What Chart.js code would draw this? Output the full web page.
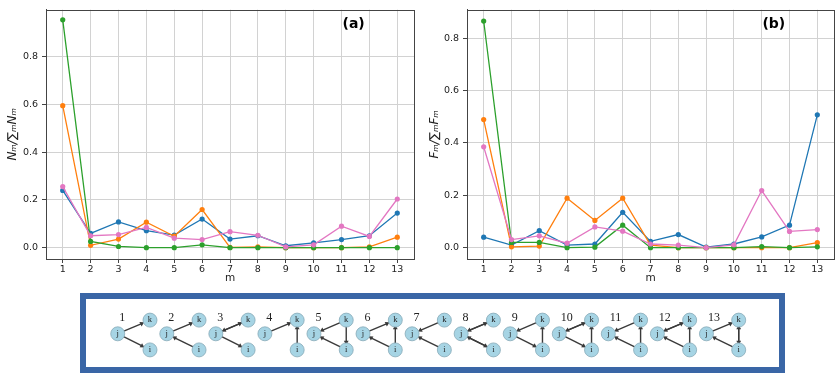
<!DOCTYPE html>
<html>
<head>
<meta charset="utf-8">
<script src="https://cdn.jsdelivr.net/npm/chart.js@4.4.1/dist/chart.umd.min.js"></script>
<style>
html, body { margin: 0; padding: 0; background: #fff; width: 835px; height: 373px; overflow: hidden; }
.box { position: absolute; }
</style>
</head>
<body>
<div class="box" style="left:0;top:0;width:418px;height:290px"><canvas id="chartA"></canvas></div>
<div class="box" style="left:418px;top:0;width:420px;height:290px"><canvas id="chartB"></canvas></div>
<div class="box" style="left:80px;top:293px;width:705px;height:80px"><canvas id="motifs"></canvas></div>
<script>
// motif index m
const motifs = [1, 2, 3, 4, 5, 6, 7, 8, 9, 10, 11, 12, 13];
const yTicksA = [0, 0.2, 0.4, 0.6, 0.8];
const yTicksB = [0, 0.2, 0.4, 0.6, 0.8];

// (a) N_m / sum N_m
const nBlue   = [0.240, 0.060, 0.108, 0.071, 0.053, 0.120, 0.036, 0.050, 0.008, 0.020, 0.034, 0.050, 0.145];
const nOrange = [0.595, 0.010, 0.036, 0.107, 0.048, 0.160, 0.001, 0.003, 0.000, 0.000, 0.000, 0.003, 0.044];
const nGreen  = [0.955, 0.026, 0.005, 0.000, 0.000, 0.012, 0.000, 0.000, 0.000, 0.000, 0.000, 0.000, 0.000];
const nPink   = [0.256, 0.050, 0.055, 0.085, 0.040, 0.034, 0.067, 0.052, 0.003, 0.012, 0.090, 0.047, 0.204];

// (b) F_m / sum F_m
const fBlue   = [0.040, 0.010, 0.065, 0.010, 0.014, 0.135, 0.024, 0.050, 0.002, 0.014, 0.041, 0.086, 0.507];
const fOrange = [0.489, 0.003, 0.006, 0.189, 0.104, 0.189, 0.010, 0.000, 0.000, 0.000, 0.000, 0.000, 0.019];
const fGreen  = [0.865, 0.020, 0.020, 0.000, 0.002, 0.086, 0.000, 0.000, 0.000, 0.000, 0.004, 0.000, 0.003];
const fPink   = [0.385, 0.031, 0.045, 0.017, 0.079, 0.063, 0.014, 0.010, 0.000, 0.011, 0.218, 0.062, 0.069];

// directed edges of each motif, "ab" = a -> b
const motifEdges = [
  ['jk', 'ji'],
  ['jk', 'ij'],
  ['jk', 'kj', 'ji'],
  ['jk', 'ik'],
  ['kj', 'ki', 'ij'],
  ['jk', 'ik', 'ij'],
  ['kj', 'ij'],
  ['jk', 'kj', 'ji', 'ij'],
  ['kj', 'ji', 'ik'],
  ['jk', 'kj', 'ji', 'ik'],
  ['kj', 'ij', 'ik'],
  ['jk', 'kj', 'ij', 'ik'],
  ['jk', 'ij', 'ik', 'ki']
];

const colors = ['#1f77b4', '#ff7f0e', '#2ca02c', '#e377c2'];

const frameAndLabel = {
  id: 'frameAndLabel',
  afterDraw(chart, args, opts) {
    const { ctx, chartArea: a } = chart;
    ctx.save();
    ctx.strokeStyle = '#444';
    ctx.lineWidth = 1;
    ctx.strokeRect(Math.round(a.left) + 0.5, Math.round(a.top) + 0.5, Math.round(a.right - a.left), Math.round(a.bottom - a.top));
    ctx.fillStyle = '#000';
    ctx.font = 'bold 14px "DejaVu Sans"';
    ctx.textAlign = 'center';
    ctx.textBaseline = 'middle';
    ctx.fillText(opts.text, a.left + (a.right - a.left) * 0.836, 24);
    ctx.restore();
  }
};

function makeSeries(arrs) {
  return arrs.map((vals, i) => ({
    data: vals.map((v, k) => ({ x: motifs[k], y: v })),
    borderColor: colors[i],
    backgroundColor: colors[i],
    borderWidth: 1.3,
    pointRadius: 2.6,
    pointBorderWidth: 0,
    pointBackgroundColor: colors[i],
    order: 3 - i
  }));
}

function makePanel(id, arrs, ymin, ymax, yTicks, yTitle, label, yWidth, padRight, titlePad) {
  return new Chart(document.getElementById(id), {
    type: 'line',
    data: { datasets: makeSeries(arrs) },
    plugins: [frameAndLabel],
    options: {
      responsive: true,
      maintainAspectRatio: false,
      animation: false,
      layout: { padding: { top: 3, right: padRight, left: 0, bottom: 0 } },
      plugins: {
        legend: { display: false },
        tooltip: { enabled: false },
        frameAndLabel: { text: label }
      },
      scales: {
        x: {
          type: 'linear',
          min: 0.4,
          max: 13.6,
          afterBuildTicks: s => { s.ticks = motifs.map(v => ({ value: v })); },
          afterFit: s => { s.height = 31; },
          grid: { color: '#d2d2d2', lineWidth: 1, tickColor: '#444', tickLength: 4 },
          border: { display: true, color: '#444' },
          ticks: { color: '#222', font: { family: 'DejaVu Sans', size: 9.5 }, padding: 1, maxRotation: 0, autoSkip: false },
          title: { display: true, text: 'm', color: '#222', font: { family: 'DejaVu Sans', size: 10.5 }, padding: { bottom: 5 } }
        },
        y: {
          min: ymin,
          max: ymax,
          afterBuildTicks: s => { s.ticks = yTicks.map(v => ({ value: v })); },
          afterFit: s => { s.width = yWidth; },
          grid: { color: '#d2d2d2', lineWidth: 1, tickColor: '#444', tickLength: 4 },
          border: { display: true, color: '#444' },
          ticks: { color: '#222', font: { family: 'DejaVu Sans', size: 9.5 }, padding: 4, callback: v => v.toFixed(1) },
          title: { display: true, text: yTitle, color: '#222', font: { family: 'DejaVu Sans', size: 12, style: 'italic' }, padding: { top: titlePad } }
        }
      }
    }
  });
}

makePanel('chartA', [nBlue, nOrange, nGreen, nPink], -0.0475, 0.9975, yTicksA, 'Nₘ/∑ₘNₘ', '(a)', 46, 3, 6);
makePanel('chartB', [fBlue, fOrange, fGreen, fPink], -0.0433, 0.9083, yTicksB, 'Fₘ/∑ₘFₘ', '(b)', 49, 2, 10);

// motif sketches: coordinates of the scale equal page pixels
const jX0 = 110.6, pitch = 50.17, kDx = 33, nodeR = 7;
const nodeY = { j: 334, k: 317, i: 354 };
function nodePos(m, n) {
  const jx = jX0 + pitch * (m - 1);
  return { x: n === 'j' ? jx : jx + kDx, y: nodeY[n] };
}

const edgeSets = [];
motifEdges.forEach((edges, idx) => {
  const m = motifs[idx];
  edges.forEach(e => {
    const a = nodePos(m, e[0]), b = nodePos(m, e[1]);
    const dx = b.x - a.x, dy = b.y - a.y, len = Math.hypot(dx, dy);
    const ux = dx / len, uy = dy / len;
    const rot = Math.atan2(ux, -uy) * 180 / Math.PI;
    edgeSets.push({
      type: 'line',
      data: [{ x: a.x + ux * nodeR, y: a.y + uy * nodeR }, { x: b.x - ux * (nodeR + 2.5), y: b.y - uy * (nodeR + 2.5) }],
      borderColor: '#3a3a3a',
      borderWidth: 1.4,
      pointRadius: [0, 2.8],
      pointStyle: 'triangle',
      rotation: [0, rot],
      pointBackgroundColor: '#3a3a3a',
      pointBorderWidth: 0,
      order: 2
    });
  });
});

const nodePoints = [];
motifs.forEach(m => ['j', 'k', 'i'].forEach(n => nodePoints.push({ ...nodePos(m, n), n })));

const motifText = {
  id: 'motifText',
  beforeDatasetsDraw(chart) {
    const { ctx } = chart;
    ctx.save();
    ctx.strokeStyle = '#3a66a6';
    ctx.lineWidth = 6;
    ctx.strokeRect(3, 3, chart.width - 6, chart.height - 6);
    ctx.restore();
  },
  afterDatasetsDraw(chart) {
    const { ctx, scales: { x, y } } = chart;
    ctx.save();
    ctx.fillStyle = '#222';
    ctx.textBaseline = 'middle';
    ctx.textAlign = 'center';
    ctx.font = '8.5px "Liberation Serif"';
    nodePoints.forEach(p => ctx.fillText(p.n, x.getPixelForValue(p.x), y.getPixelForValue(p.y)));
    ctx.textAlign = 'left';
    ctx.font = '12px "Liberation Serif"';
    motifs.forEach(m => {
      const p = nodePos(m, 'j');
      ctx.fillText(String(m), x.getPixelForValue(p.x + 1.5), y.getPixelForValue(314));
    });
    ctx.restore();
  }
};

new Chart(document.getElementById('motifs'), {
  type: 'scatter',
  data: {
    datasets: [...edgeSets, {
      type: 'scatter',
      data: nodePoints,
      pointRadius: nodeR,
      pointBackgroundColor: '#a6d4e4',
      pointBorderColor: '#86aab8',
      pointBorderWidth: 0.8,
      order: 1
    }]
  },
  plugins: [motifText],
  options: {
    responsive: true,
    maintainAspectRatio: false,
    animation: false,
    layout: { padding: 0 },
    plugins: { legend: { display: false }, tooltip: { enabled: false } },
    scales: {
      x: { type: 'linear', display: false, min: 80, max: 785 },
      y: { type: 'linear', display: false, min: 293, max: 373, reverse: true }
    }
  }
});
</script>
</body>
</html>
